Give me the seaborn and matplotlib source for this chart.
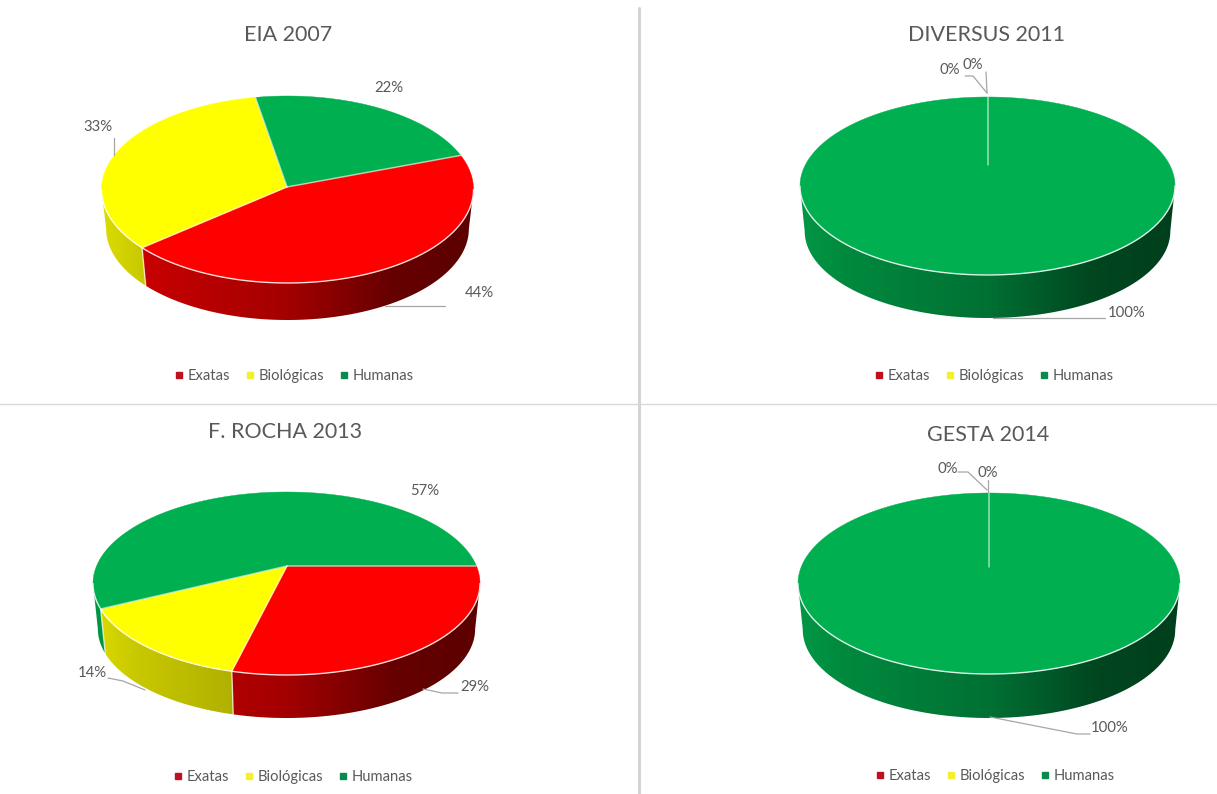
import numpy as np
import seaborn as sns
import matplotlib
matplotlib.use("Agg")
import matplotlib.pyplot as plt
from matplotlib.lines import Line2D
from matplotlib.patches import Polygon

# Share of each field per study, in percent
categories = ["Exatas", "Biológicas", "Humanas"]
studies = ["EIA 2007", "DIVERSUS 2011", "F. ROCHA 2013", "GESTA 2014"]
eia_2007 = [44, 33, 22]
diversus_2011 = [0, 0, 100]
rocha_2013 = [29, 14, 57]
gesta_2014 = [0, 0, 100]

sns.set_theme(style="white")
plt.rcParams["font.family"] = ["Lato", "DejaVu Sans"]
palette = sns.color_palette(["#FF0000", "#FFFF00", "#00B050"])
legend_colors = sns.color_palette(["#BE1020", "#F4F030", "#0B8A50"])
TEXT = "#595959"
LEADER = "#A6A6A6"
BASE_TAPER = 0.975  # the underside of the disc recedes slightly

# Layout of each panel in figure pixels: disc centre, radii, wall height,
# apex of the slices, first slice angle, title, legend and label placement.
panels = [
    dict(values=eia_2007, cx=287.5, cy=189.5, rx=186, ry=93.5, k=0.5, depth=37, apex=(287, 187), start=70,
         title=(288, 35), legend=(292, 376),
         labels=[(479, 293), (98, 127), (389, 88)],
         leaders=[[(445, 306), (385, 306)], [(113.5, 138), (113.5, 155)], None]),
    dict(values=diversus_2011, cx=987.5, cy=186, rx=187.5, ry=89, k=0.47, depth=43, apex=(987.5, 165), start=0,
         title=(987, 35), legend=(992, 376),
         labels=[(950, 70), (973, 65), (1127, 313)],
         leaders=[[(965, 76), (973, 76), (987, 93)], [(986, 72), (987, 93)], [(1105, 318), (993, 318)]]),
    dict(values=rocha_2013, cx=286.5, cy=583.5, rx=193.5, ry=91.5, k=0.49, depth=43, apex=(287, 566), start=90,
         title=(285, 432), legend=(291, 777),
         labels=[(475, 687), (92, 673), (425, 491)],
         leaders=[[(458, 693), (442, 693), (423, 689)], [(108, 678), (123, 681), (145, 690)], None]),
    dict(values=gesta_2014, cx=989, cy=583.5, rx=191, ry=90.5, k=0.47, depth=44, apex=(989, 567), start=0,
         title=(988, 435), legend=(993, 776),
         labels=[(948, 469), (988, 473), (1110, 728)],
         leaders=[[(958, 472), (968, 472), (987, 490)], [(988, 480), (988, 492)],
                  [(1090, 734), (1077, 734), (990, 717)]]),
]


def wall_shade(u):
    """Brightness of the side wall, u running 0 to 1 from left to right."""
    return np.interp(u, [0, 0.12, 0.5, 0.78, 1], [0.86, 0.78, 0.64, 0.40, 0.36])


def rim_angle(theta, p):
    """Angle on the rim ellipse reached by a slice edge leaving the apex."""
    ax_, ay_ = p["apex"]
    dx, dy = np.sin(np.radians(theta)), -p["k"] * np.cos(np.radians(theta))
    ox, oy = (ax_ - p["cx"]) / p["rx"], (ay_ - p["cy"]) / p["ry"]
    ex, ey = dx / p["rx"], dy / p["ry"]
    a, b, c = ex**2 + ey**2, 2 * (ox * ex + oy * ey), ox**2 + oy**2 - 1
    s = (-b + np.sqrt(b**2 - 4 * a * c)) / (2 * a)
    return np.degrees(np.arctan2(ox + s * ex, -(oy + s * ey))) % 360


def rim(phi, p):
    phi = np.radians(phi)
    return p["cx"] + p["rx"] * np.sin(phi), p["cy"] - p["ry"] * np.cos(phi)


def base_rim(phi, p):
    phi = np.radians(phi)
    rise = p["ry"] * (1 - BASE_TAPER)
    return (p["cx"] + BASE_TAPER * p["rx"] * np.sin(phi),
            p["cy"] + p["depth"] + rise - BASE_TAPER * p["ry"] * np.cos(phi))


def draw_wall(ax, p, color, lo, hi):
    """Side wall between two rim angles, shaded from left to right."""
    phis = np.linspace(lo, hi, 200)
    xt, yt = rim(phis, p)
    xb, yb = base_rim(phis, p)
    outline = np.column_stack([np.r_[xt, xb[::-1]], np.r_[yt, yb[::-1]]])
    u = np.linspace(0, 1, 256)
    ramp = (wall_shade(u)[:, None] * np.array(color))[None, :, :]
    im = ax.imshow(ramp, extent=(p["cx"] - p["rx"], p["cx"] + p["rx"],
                                 p["cy"] + p["ry"] + p["depth"] + 3, p["cy"] - 3),
                   aspect="auto", interpolation="bilinear", zorder=2)
    im.set_clip_path(Polygon(outline, closed=True, transform=ax.transData))


def draw_pie(ax, p):
    values = np.asarray(p["values"], dtype=float)
    spans = values / values.sum() * 360
    # Slices run clockwise from the start angle.
    edges = p["start"] + np.concatenate([[0], np.cumsum(spans)])
    for i, span in enumerate(spans):
        if span <= 0:
            continue
        phi0 = rim_angle(edges[i], p)
        phi1 = rim_angle(edges[i + 1], p)
        if phi1 <= phi0:
            phi1 += 360
        phis = np.linspace(phi0, phi1, max(int(phi1 - phi0) * 2, 2))
        x, y = rim(phis, p)
        xy = np.column_stack([np.r_[p["apex"][0], x], np.r_[p["apex"][1], y]])
        ax.add_patch(Polygon(xy, closed=True, facecolor=palette[i], edgecolor=palette[i], linewidth=0.3, zorder=3))
        # The wall shows only along the front half of the rim.
        for front_lo, front_hi in ((90, 270), (450, 630)):
            lo, hi = max(phi0, front_lo), min(phi1, front_hi)
            if lo < hi:
                draw_wall(ax, p, palette[i], lo, hi)
        if 90 < phi0 % 360 < 270 and span < 360:
            xa, ya = rim(phi0, p)
            xb, yb = base_rim(phi0, p)
            ax.plot([xa, xb], [ya, yb], color="white", lw=1.0, alpha=0.7, zorder=4)

    # Light rim along the front of the disc and along the slice borders
    ax.plot(*rim(np.linspace(90, 270, 200), p), color="white", lw=1.0, alpha=0.85, zorder=4)
    # Zero-width slices stack their borders, so each distinct border is drawn once.
    for theta in np.unique(np.round(edges[:-1] % 360, 6)):
        x, y = rim(rim_angle(theta, p), p)
        ax.plot([p["apex"][0], x], [p["apex"][1], y], color="white", lw=1.1, alpha=0.6, zorder=4)


fig = plt.figure(figsize=(12.17, 7.94), dpi=100, facecolor="white")
ax = fig.add_axes([0, 0, 1, 1])
ax.set_xlim(0, 1217)
ax.set_ylim(794, 0)
ax.autoscale(False)
ax.axis("off")

# Panel dividers
ax.plot([638.5, 638.5], [8, 794], color="#D4D4D4", lw=2.2, zorder=1)
ax.plot([0, 1217], [404, 404], color="#D9D9D9", lw=1.0, zorder=1)

handles = [Line2D([], [], linestyle="none", marker="s", markersize=4.2, color=c, label=n)
           for c, n in zip(legend_colors, categories)]

for name, p in zip(studies, panels):
    draw_pie(ax, p)
    ax.text(*p["title"], name, ha="center", va="center", fontsize=15.5, color=TEXT)
    for v, pos, leader in zip(p["values"], p["labels"], p["leaders"]):
        ax.text(*pos, f"{v}%", ha="center", va="center", fontsize=10.7, color=TEXT, zorder=6)
        if leader:
            xs, ys = zip(*leader)
            ax.plot(xs, ys, color=LEADER, lw=0.9, zorder=5)
    leg = ax.legend(handles=handles, ncol=3, loc="center", frameon=False,
                    bbox_to_anchor=p["legend"], bbox_transform=ax.transData,
                    fontsize=10.6, labelcolor=TEXT, handletextpad=0.0, columnspacing=0.75,
                    handlelength=1.2, borderpad=0)
    ax.add_artist(leg)
    ax.legend_ = None

ax.set_xlim(0, 1217)
ax.set_ylim(794, 0)
fig.savefig("out.png", dpi=100)
